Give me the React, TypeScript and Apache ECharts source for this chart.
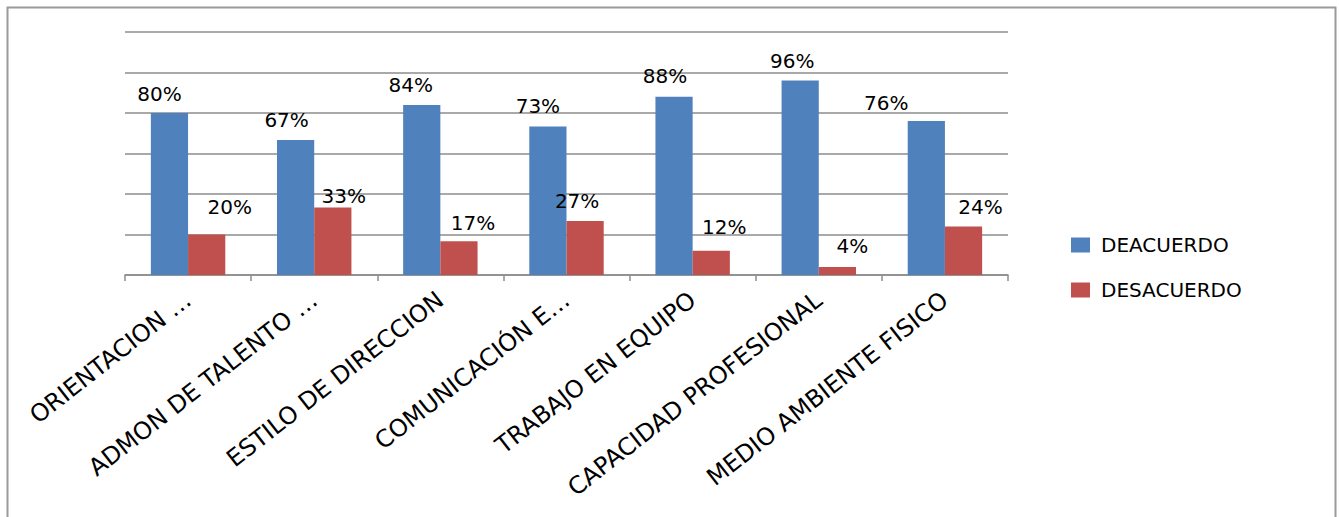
import React, { useEffect, useRef } from "react";
import * as echarts from "echarts";

const categories = [
  "ORIENTACION …",
  "ADMON DE TALENTO …",
  "ESTILO DE DIRECCION",
  "COMUNICACIÓN E…",
  "TRABAJO EN EQUIPO",
  "CAPACIDAD PROFESIONAL",
  "MEDIO AMBIENTE FISICO",
];
const deacuerdo = [80, 66.7, 84, 73.3, 88, 96, 76];
const desacuerdo = [20, 33.3, 16.7, 26.7, 12, 4, 24];
const seriesNames = ["DEACUERDO", "DESACUERDO"];

// label nudges (style only)
const deacuerdoNudge = [[-10, 1], [-9, 0], [-11, 0], [-10, -1], [-9, -1], [-8, 0], [-40, 2]];
const desacuerdoNudge = [[23, -8], [11, 8], [14, 2], [-8, 0], [13, -4], [15, -1], [17, 1]];

const FONT = "DejaVu Sans";

export default function App() {
  const ref = useRef<HTMLDivElement>(null);
  useEffect(() => {
    document.body.style.margin = "0";
    const chart = echarts.init(ref.current!, null, { renderer: "svg" });
    const mk = (vals: number[], nudge: number[][]) =>
      vals.map((v, i) => ({ value: v, label: { offset: nudge[i] } }));
    const labelStyle = {
      show: true,
      position: "top",
      distance: 10,
      color: "#000",
      fontFamily: FONT,
      fontSize: 20,
      formatter: (p: any) => Math.round(p.value) + "%",
    };
    chart.setOption({
      animation: false,
      backgroundColor: "#fff",
      grid: { left: 125, right: 331, top: 32, bottom: 242, containLabel: false },
      legend: {
        orient: "vertical",
        left: 1066,
        top: 230,
        itemWidth: 19,
        itemHeight: 15,
        itemGap: 25,
        icon: "rect",
        textStyle: { fontFamily: FONT, fontSize: 20, color: "#000", padding: [2, 0, 0, 6] },
        data: seriesNames,
      },
      xAxis: {
        type: "category",
        data: categories,
        axisLine: { show: true, lineStyle: { color: "#8c8c8c", width: 1.5 } },
        axisTick: { show: true, length: 6, alignWithLabel: false, lineStyle: { color: "#8c8c8c", width: 1.5 } },
        axisLabel: {
          interval: 0,
          rotate: 38,
          margin: 22,
          fontFamily: FONT,
          fontSize: 24,
          color: "#000",
        },
      },
      yAxis: {
        type: "value",
        min: 0,
        max: 120,
        interval: 20,
        axisLabel: { show: false },
        axisLine: { show: false },
        axisTick: { show: false },
        splitLine: { show: true, lineStyle: { color: "#8c8c8c", width: 1.5 } },
      },
      series: [
        {
          name: seriesNames[0],
          type: "bar",
          data: mk(deacuerdo, deacuerdoNudge),
          itemStyle: { color: "#4f81bd" },
          barGap: "0%",
          barCategoryGap: "41%",
          label: labelStyle,
        },
        {
          name: seriesNames[1],
          type: "bar",
          data: mk(desacuerdo, desacuerdoNudge),
          itemStyle: { color: "#c0504d" },
          barGap: "0%",
          barCategoryGap: "41%",
          label: labelStyle,
        },
      ],
      graphic: [
        {
          type: "rect",
          left: 5,
          top: 5,
          shape: { x: 0, y: 0, width: 1328, height: 530 },
          style: { fill: "none", stroke: "#9a9a9a", lineWidth: 2 },
          silent: true,
        },
      ],
    });
    return () => chart.dispose();
  }, []);
  return <div ref={ref} style={{ width: 1339, height: 517 }} />;
}
